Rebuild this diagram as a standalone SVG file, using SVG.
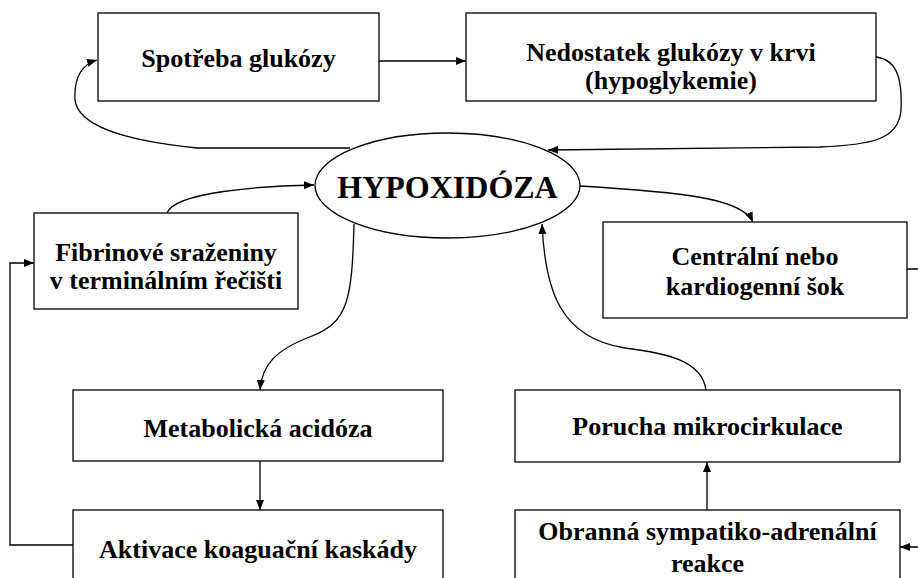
<svg xmlns="http://www.w3.org/2000/svg" width="918" height="578" viewBox="0 0 918 578">
<defs>
<style>
.box{fill:#fff;stroke:#000;stroke-width:1.3}
.t{font-weight:bold;font-size:26px;fill:#000;text-anchor:middle}
.big{font-size:32px}
.c{fill:none;stroke:#000;stroke-width:1.3}
</style>
<marker id="ah" markerUnits="userSpaceOnUse" markerWidth="10" markerHeight="10" viewBox="0 0 10 8" refX="10" refY="4" orient="auto">
<path d="M0,0 L10,4 L0,8 z" fill="#000"/>
</marker>
</defs>
<rect width="918" height="578" fill="#fff"/>
<g id="connectors">
<path class="c" d="M379,61 H466" marker-end="url(#ah)"/>
<path class="c" d="M876,57 C900,60 902,85 901,110 C899,140 870,145 820,147 L548,150" marker-end="url(#ah)"/>
<path class="c" d="M350,148 L197,148 C120,140 78,125 75,100 C74,80 80,65 97,60" marker-end="url(#ah)"/>
<path class="c" d="M167,213 C175,192 260,186 314,185" marker-end="url(#ah)"/>
<path class="c" d="M354,224 C352,300 348,322 312,336 C275,350 262,365 260,390" marker-end="url(#ah)"/>
<path class="c" d="M580,186 C680,192 742,198 753,222" marker-end="url(#ah)"/>
<path class="c" d="M706,390 C702,360 665,353 625,348 C560,338 545,290 542,224" marker-end="url(#ah)"/>
<path class="c" d="M260,461 V510" marker-end="url(#ah)"/>
<path class="c" d="M707,510 V462" marker-end="url(#ah)"/>
<path class="c" d="M73,545 H10 V263 H34" marker-end="url(#ah)"/>
<path class="c" d="M907,269 H930 V547 H900" marker-end="url(#ah)"/>
</g>
<g font-family="Liberation Serif, Tinos, Times New Roman, serif">
<g id="n1"><rect class="box" x="98" y="13" width="281" height="88"/><text class="t" x="238.5" y="67">Spotřeba glukózy</text></g>
<g id="n2"><rect class="box" x="466" y="13" width="410" height="88"/><text class="t" x="671" y="61">Nedostatek glukózy v krvi</text><text class="t" x="671" y="89">(hypoglykemie)</text></g>
<g id="n3"><ellipse class="box" cx="447.5" cy="185.5" rx="132.5" ry="52.5"/><text class="t big" x="447.5" y="198">HYPOXIDÓZA</text></g>
<g id="n4"><rect class="box" x="34" y="213" width="264" height="96"/><text class="t" x="166" y="261">Fibrinové sraženiny</text><text class="t" x="166" y="289">v terminálním řečišti</text></g>
<g id="n5"><rect class="box" x="603" y="222" width="304" height="96"/><text class="t" x="755" y="265">Centrální nebo</text><text class="t" x="755" y="295">kardiogenní šok</text></g>
<g id="n6"><rect class="box" x="73" y="390" width="370" height="71"/><text class="t" x="258" y="437">Metabolická acidóza</text></g>
<g id="n7"><rect class="box" x="515" y="390" width="385" height="72"/><text class="t" x="707.5" y="435">Porucha mikrocirkulace</text></g>
<g id="n8"><rect class="box" x="73" y="510" width="370" height="90"/><text class="t" x="258" y="558">Aktivace koaguační kaskády</text></g>
<g id="n9"><rect class="box" x="515" y="510" width="385" height="90"/><text class="t" x="707.5" y="540">Obranná sympatiko-adrenální</text><text class="t" x="707.5" y="572">reakce</text></g>
</g>
</svg>
